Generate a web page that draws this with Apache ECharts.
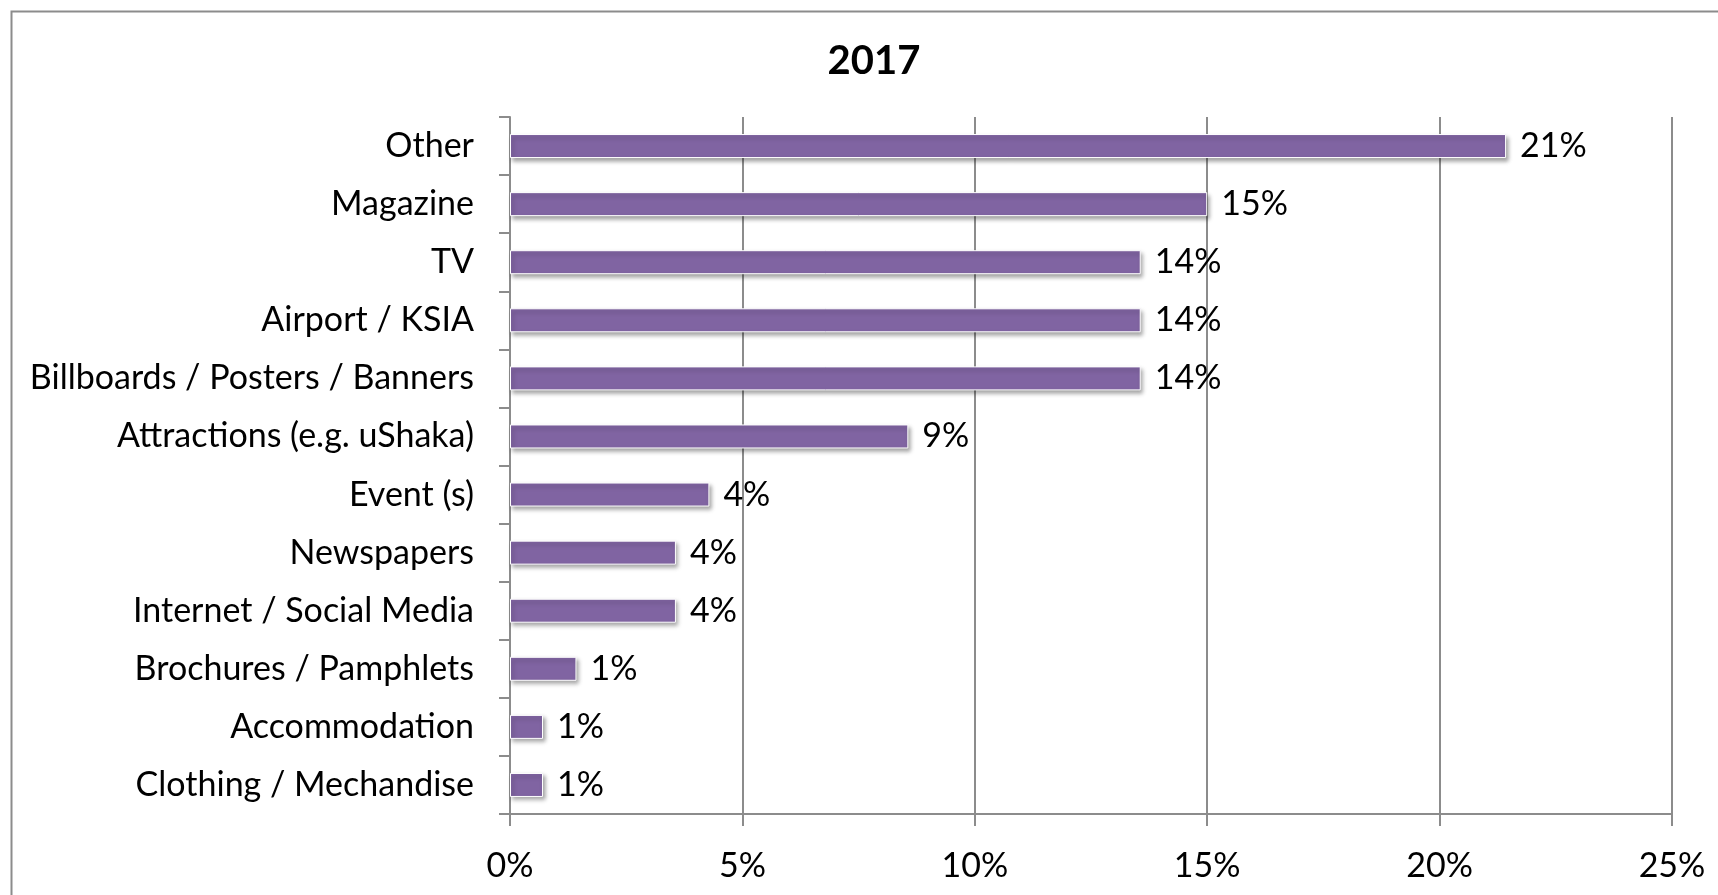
<!DOCTYPE html>
<html>
<head>
<meta charset="utf-8">
<script src="https://cdn.jsdelivr.net/npm/echarts@6/dist/echarts.min.js"></script>
<style>
html,body{margin:0;padding:0;background:#fff;}
#chart{width:1718px;height:895px;}
</style>
</head>
<body>
<div id="chart"></div>
<script>
const titleText = '2017';
const categories = [
  'Other',
  'Magazine',
  'TV',
  'Airport / KSIA',
  'Billboards / Posters / Banners',
  'Attractions (e.g. uShaka)',
  'Event (s)',
  'Newspapers',
  'Internet / Social Media',
  'Brochures / Pamphlets',
  'Accommodation',
  'Clothing / Mechandise'
];
const values = [21.43, 15.0, 13.57, 13.57, 13.57, 8.57, 4.29, 3.57, 3.57, 1.43, 0.71, 0.71];
const xTicks = [0, 5, 10, 15, 20, 25];

const FONT = 'Lato';
const chart = echarts.init(document.getElementById('chart'), null, {renderer: 'canvas'});
chart.setOption({
  animation: false,
  backgroundColor: '#ffffff',
  title: {
    text: titleText,
    left: 869,
    top: 36,
    textAlign: 'center',
    textStyle: {fontFamily: FONT, fontWeight: 'bold', fontSize: 40, color: '#000'}
  },
  graphic: [{
    type: 'rect',
    left: 9, top: 9,
    shape: {x: 0, y: 0, width: 1720, height: 900},
    style: {fill: 'none', stroke: '#8c8c8c', lineWidth: 2},
    silent: true
  }],
  grid: {left: 510, right: 46, top: 117, bottom: 81, containLabel: false},
  xAxis: {
    type: 'value',
    min: xTicks[0],
    max: xTicks[xTicks.length - 1],
    interval: 5,
    axisLine: {show: true, lineStyle: {color: '#8c8c8c', width: 2}},
    axisTick: {show: true, length: 12, lineStyle: {color: '#8c8c8c', width: 2}},
    splitLine: {show: true, lineStyle: {color: '#8c8c8c', width: 2}},
    axisLabel: {
      margin: 35,
      fontFamily: FONT, fontSize: 34, color: '#000',
      formatter: v => v + '%'
    }
  },
  yAxis: {
    type: 'category',
    data: categories,
    inverse: true,
    axisLine: {show: true, lineStyle: {color: '#8c8c8c', width: 2}},
    axisTick: {show: true, length: 11, interval: 0, lineStyle: {color: '#8c8c8c', width: 2}},
    axisLabel: {margin: 36, fontFamily: FONT, fontSize: 34, color: '#000', interval: 0,
      padding: [5, 0, 0, 0]}
  },
  series: [{
    type: 'bar',
    data: values,
    barWidth: 24,
    itemStyle: {
      color: '#8064A2',
      borderColor: '#ffffff',
      borderWidth: 1,
      shadowColor: 'rgba(0,0,0,0.35)',
      shadowBlur: 4,
      shadowOffsetX: 2,
      shadowOffsetY: 3
    },
    label: {
      show: true,
      position: 'right',
      distance: 14,
      fontFamily: FONT, fontSize: 34, color: '#000',
      padding: [10, 0, 0, 0],
      formatter: p => Math.round(p.value) + '%'
    }
  }]
});
</script>
</body>
</html>
